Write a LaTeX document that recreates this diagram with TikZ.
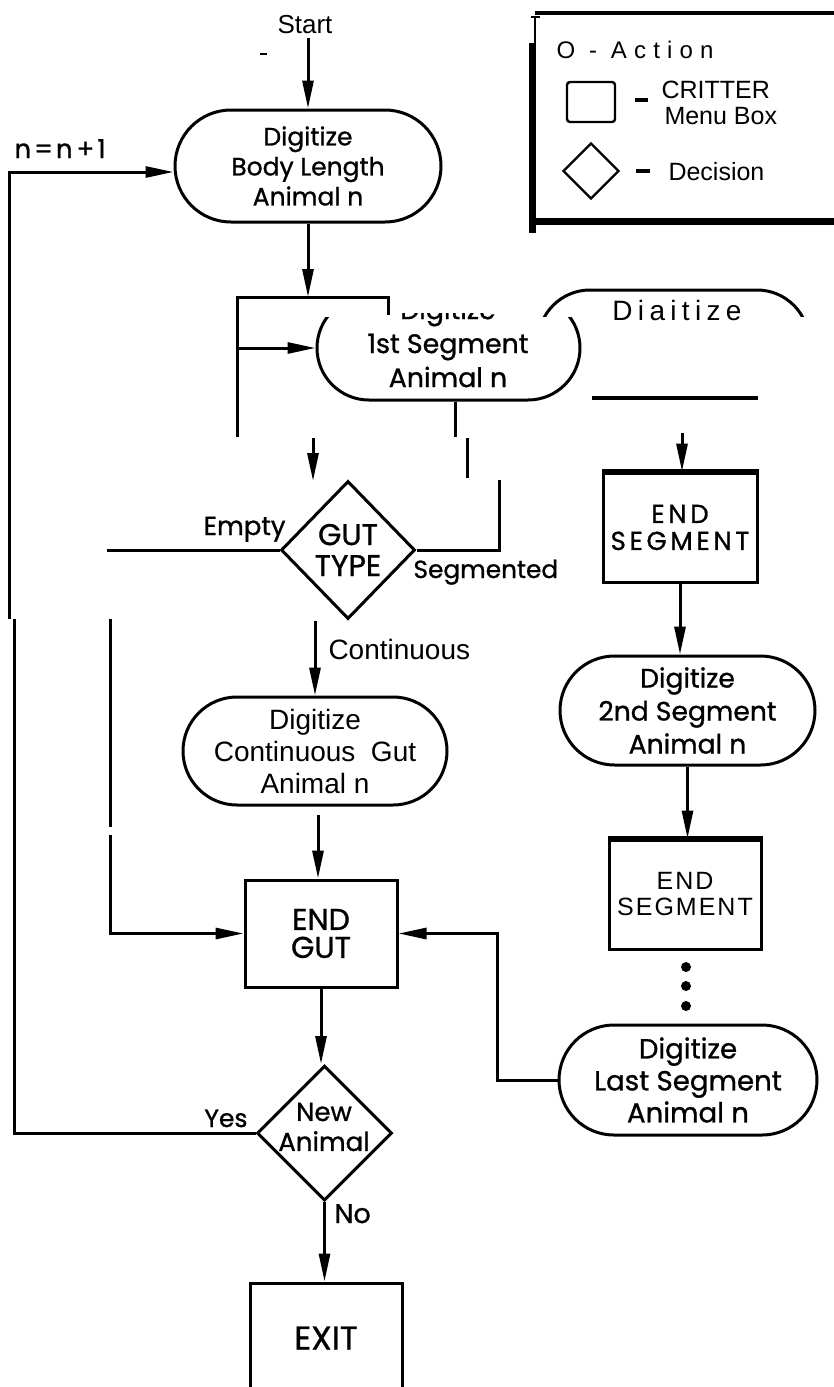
\documentclass[tikz,border=0pt]{standalone}
\usepackage{fontspec}
\setmainfont[FakeBold=1.0]{Poppins}
\newfontfamily\cond{Liberation Sans}
\newfontfamily\spacedA[LetterSpace=19]{Liberation Sans}
\newfontfamily\spacedB[LetterSpace=8]{Liberation Sans}
\newfontfamily\spacedC[LetterSpace=30]{Liberation Sans}
\newfontfamily\geospaced[LetterSpace=14,FakeBold=1.0]{Poppins}
\usetikzlibrary{arrows.meta,shapes.geometric}
\begin{document}
\begin{tikzpicture}[x=0.5pt,y=-0.5pt,
  line width=1.5pt,
  arr/.style={-{Triangle[length=14pt,width=5.5pt]}},
  stad/.style={draw, rectangle, inner sep=0pt, align=center},
  box/.style={draw, rectangle, inner sep=0pt, align=center},
  dia/.style={draw, diamond, inner sep=0pt, aspect=1},
  lab/.style={inner sep=0pt},
  cnd/.style={font=\cond\fontsize{13}{13}\selectfont},
]
\useasboundingbox (0,0) rectangle (834,1387);
\clip (0,0) rectangle (834,1387);

% ---------- top ----------
\node[lab, anchor=base, cnd] (start) at (305,33) {Start};
\coordinate (stray1) at (260,54);
\coordinate (stray2) at (267,54);
\draw[line width=1pt] (stray1) -- (stray2);

\node[stad, font=\fontsize{12.5}{15}\selectfont, minimum width=133pt, minimum height=56pt, rounded corners=28pt] (body) at (308,166) {Digitize\\Body Length\\Animal n};
\coordinate (startarr) at (310,38);
\draw[arr] (body.north |- startarr) -- (body.north);

\node[lab, anchor=base west, font=\fontsize{13}{13}\selectfont] (nlab) at (13,158) {n\kern1.5pt=\kern1.5pt n\kern2pt+\kern1.5pt1};

% bracket
\coordinate (brT) at (311,297);
\coordinate (brL) at (237,297);
\coordinate (brR) at (388,297);
\coordinate (brRe) at (388,315);
\coordinate (brLb) at (237,437);
\coordinate (brA) at (237,348);
\draw[arr] (body.south) -- (body.south |- brT);
\draw (brLb) -- (brL) -- (brR) -- (brRe);

% 1st segment (top cut off)
\begin{scope}
\clip (280,317) rectangle (620,420);
\node[stad, minimum width=131.5pt, minimum height=52pt, rounded corners=26pt] (seg1) at (448.5,348) {};
\end{scope}
\begin{scope}
\clip (280,313) rectangle (620,420);
\node[align=center, font=\fontsize{13.4}{17}\selectfont] (seg1t) at (448,343) {Digitize\\1st Segment\\Animal n};
\end{scope}
\draw[arr] (brA) -- (seg1.west);

% Diaitize fragment
\begin{scope}
\clip (520,250) rectangle (834,316);
\node[stad, minimum width=135.5pt, minimum height=52pt, rounded corners=26pt] (digfrag) at (673.5,342) {};
\end{scope}
\node[lab, anchor=base, font=\spacedA\fontsize{14}{14}\selectfont] (digfragt) at (677,320) {Diaitize};
\coordinate (hl1) at (592,398);
\coordinate (hl2) at (758,398);
\draw[line width=2pt] (hl1) -- (hl2);

% fragments around GUT TYPE
\coordinate (s1b) at (455,437);
\draw (seg1.south -| s1b) -- (s1b);
\coordinate (sg1) at (467,438);
\coordinate (sg2) at (467,478);
\draw (sg1) -- (sg2);
\coordinate (a2s) at (313,438);
\coordinate (a2e) at (313,481);
\draw[arr] (a2s) -- (a2e);

% GUT TYPE
\node[dia, align=center, font=\fontsize{15}{15.5}\selectfont, minimum width=67pt, minimum height=69pt] (gut) at (348,550) {GUT\\TYPE};
\coordinate (sg3) at (499,480);
\draw (gut.east) -| (sg3);
\node[lab, anchor=base east, font=\fontsize{13}{13}\selectfont] (empty) at (287,535) {Empty};
\node[lab, anchor=base west, font=\fontsize{12.4}{12}\selectfont] (segd) at (412,578) {Segmented};
\coordinate (eL) at (107,550);
\draw (gut.west) -- (eL);

% continuous branch
\node[stad, font=\cond\fontsize{14}{16}\selectfont, align=center, minimum width=132pt, minimum height=54pt, rounded corners=27pt] (contg) at (315,751) {Digitize\\Continuous\ \ Gut\\Animal n};
\draw[arr] (gut.south -| contg.north) -- (contg.north);
\node[lab, anchor=base west, font=\cond\fontsize{14}{14}\selectfont] (contl) at (327,659) {Continuous};

% END GUT
\node[box, align=center, font=\fontsize{15}{14}\selectfont, minimum width=76pt, minimum height=53.5pt] (endgut) at (321,933.5) {END\\GUT};
\coordinate (cB) at (318,815);
\draw[arr] (cB) -- (cB |- endgut.north);

% Empty branch down the left
\coordinate (eV1) at (110,619);
\coordinate (eV2) at (110,827);
\coordinate (eV3) at (110,835);
\draw (eV1) -- (eV2);
\draw[arr] (eV3) |- (endgut.west);

% New Animal
\node[dia, minimum width=67.5pt, minimum height=67.5pt] (newan) at (324.5,1133) {};
\node[align=center, font=\fontsize{13}{15}\selectfont] (newant) at (324,1127) {New\\Animal};
\draw[arr] (endgut.south) -- (endgut.south |- newan.north);
\node[lab, anchor=base east, font=\fontsize{12.5}{12}\selectfont] (yes) at (249,1127) {Yes};
\node[lab, anchor=base west, font=\fontsize{13.5}{12}\selectfont] (no) at (333,1223) {No};

% loop back
\coordinate (yUp) at (14,619);
\coordinate (yUp2) at (9,619);
\draw (newan.west) -| (yUp);
\draw[arr] (yUp2) |- ([yshift=-3pt]body.west);

% EXIT
\node[box, font=\fontsize{16.5}{15}\selectfont, minimum width=76pt, minimum height=55pt] (exit) at (326,1338) {EXIT};
\draw[arr] (newan.south) -- (newan.south |- exit.north);

% ---------- right column ----------
\node[box, font=\geospaced\fontsize{13}{13.5}\selectfont, minimum width=77pt, minimum height=54.5pt] (endseg1) at (680,527.5) {END\\SEGMENT};
\draw[line width=2.5pt] (endseg1.north west) -- (endseg1.north east);
\coordinate (a1s) at (682,433);
\draw[arr] (a1s) -- (a1s |- endseg1.north);

\node[stad, align=center, font=\fontsize{13.3}{16.5}\selectfont, minimum width=127.5pt, minimum height=54.5pt, rounded corners=27.25pt] (seg2) at (687.5,710.5) {Digitize\\2nd Segment\\Animal n};
\draw[arr] (endseg1.south) -- (endseg1.south |- seg2.north);

\node[box, font=\spacedB\fontsize{12.5}{13}\selectfont, minimum width=76pt, minimum height=54.5pt] (endseg2) at (685,894.5) {END\\SEGMENT};
\draw[line width=2.5pt] (endseg2.north west) -- (endseg2.north east);
\draw[arr] (seg2.south) -- (seg2.south |- endseg2.north);

\node[circle, fill, inner sep=0pt, minimum size=5pt] (d1) at (686,967) {};
\node[circle, fill, inner sep=0pt, minimum size=5pt] (d2) at (686,986) {};
\node[circle, fill, inner sep=0pt, minimum size=5pt] (d3) at (686,1006) {};

\node[stad, align=center, font=\fontsize{13.8}{16}\selectfont, minimum width=129pt, minimum height=55pt, rounded corners=27.5pt] (lastseg) at (688,1080) {Digitize\\Last Segment\\Animal n};
\draw[arr] (lastseg.west) -- ++(-60,0) |- (endgut.east);

% ---------- legend ----------
\draw[line width=2pt] (535,13) -- (834,13);
\draw[line width=1pt] (531,17) -- (540,17) (535,17) -- (535,43);
\draw[line width=3.5pt] (532,43) -- (532,233);
\draw[line width=3.5pt] (530,221) -- (834,221);
\node[lab, anchor=base west, font=\spacedC\fontsize{12}{12}\selectfont] (lgact) at (555,58) {O - Action};
\node[draw, line width=1.2pt, rounded corners=1.5pt, minimum width=24pt, minimum height=20pt, inner sep=0pt] (lgbox) at (591,102) {};
\draw[line width=2pt] (635,100) -- (648,100);
\node[lab, anchor=base west, font=\cond\fontsize{12.5}{12.5}\selectfont] (lgcr) at (660,98) {CRITTER};
\node[lab, anchor=base west, font=\cond\fontsize{12.5}{12.5}\selectfont] (lgmb) at (663,124) {Menu Box};
\node[dia, line width=1.2pt, minimum width=28pt, minimum height=28pt] (lgdia) at (591,171) {};
\draw[line width=2pt] (636,171) -- (650,171);
\node[lab, anchor=base west, font=\cond\fontsize{12.5}{12.5}\selectfont] (lgdec) at (667,180) {Decision};
\end{tikzpicture}
\end{document}
